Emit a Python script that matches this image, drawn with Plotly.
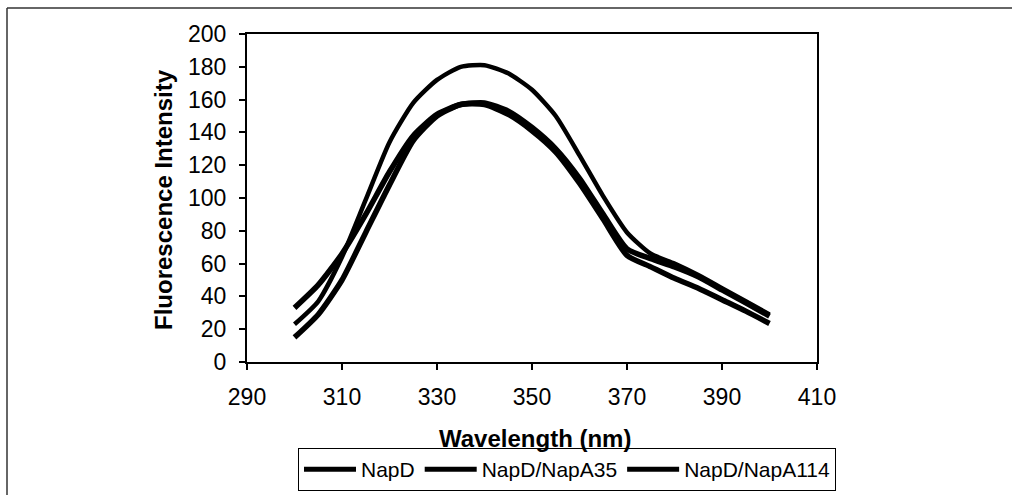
import plotly.graph_objects as go

wavelength = [300, 305, 310, 315, 320, 325, 330, 335, 340, 345, 350,
              355, 360, 365, 370, 375, 380, 385, 390, 395, 400]
napd = [33, 47, 66, 90, 116, 138, 151, 157, 158, 153, 143,
        130, 112, 90, 69, 63, 58, 52, 44, 36, 28]
napd_napa35 = [23, 37, 64, 99, 134, 158, 172, 180, 181, 176, 166,
               150, 126, 101, 79, 66, 60, 53, 45, 37, 29]
napd_napa114 = [15, 29, 50, 79, 108, 135, 150, 157, 157, 151, 141,
                128, 109, 87, 65, 58, 51, 45, 38, 31, 23.5]

series = [
    ("NapD", napd, 5.5),
    ("NapD/NapA35", napd_napa35, 4.5),
    ("NapD/NapA114", napd_napa114, 5.5),
]

FONT = "Liberation Sans, Arial, sans-serif"

fig = go.Figure()
for name, vals, w in series:
    fig.add_trace(go.Scatter(
        x=wavelength, y=vals, name=name, mode="lines",
        line=dict(color="black", width=w, shape="spline", smoothing=0.6),
    ))

fig.update_layout(
    width=1018, height=495,
    margin=dict(l=247, r=201, t=34, b=133, autoexpand=False),
    paper_bgcolor="white", plot_bgcolor="white",
    font=dict(family=FONT, color="black"),
    showlegend=True,
    legend=dict(
        orientation="h", x=(567 - 247) / 570, xanchor="center",
        y=(362 - 448) / 328, yanchor="top",
        bordercolor="black", borderwidth=1, font=dict(size=21, family=FONT),
        itemwidth=52, tracegroupgap=0, itemsizing="constant",
    ),
    xaxis=dict(
        range=[290, 410], tickvals=[290, 310, 330, 350, 370, 390, 410],
        showline=True, linecolor="black", linewidth=2, mirror=True,
        ticks="outside", ticklen=6, tickcolor="black", tickwidth=1.5,
        showgrid=False, zeroline=False,
        tickfont=dict(size=23, family=FONT), ticklabelstandoff=7,
    ),
    yaxis=dict(
        range=[0, 200], tickvals=list(range(0, 201, 20)),
        showline=True, linecolor="black", linewidth=2, mirror=True,
        ticks="outside", ticklen=6, tickcolor="black", tickwidth=1.5,
        showgrid=False, zeroline=False,
        tickfont=dict(size=23, family=FONT), ticklabelstandoff=8,
    ),
    annotations=[
        dict(text="<b>Wavelength (nm)</b>", xref="paper", yref="paper",
             x=(535 - 247) / 570, y=(362 - 438) / 328, xanchor="center", yanchor="middle",
             showarrow=False, font=dict(size=24, family=FONT)),
        dict(text="<b>Fluorescence Intensity</b>", xref="paper", yref="paper",
             x=(163 - 247) / 570, y=(362 - 200) / 328, xanchor="center", yanchor="middle",
             textangle=-90, showarrow=False, font=dict(size=24, family=FONT)),
    ],
    shapes=[
        dict(type="line", xref="paper", yref="paper",
             x0=(7 - 247) / 570, x1=(1012 - 247) / 570,
             y0=(362 - 8) / 328, y1=(362 - 8) / 328,
             line=dict(color="#333", width=1.5)),
        dict(type="line", xref="paper", yref="paper",
             x0=(7 - 247) / 570, x1=(7 - 247) / 570,
             y0=(362 - 8) / 328, y1=(362 - 495) / 328,
             line=dict(color="#333", width=1.5)),
    ],
)

fig.write_html("out.html")
